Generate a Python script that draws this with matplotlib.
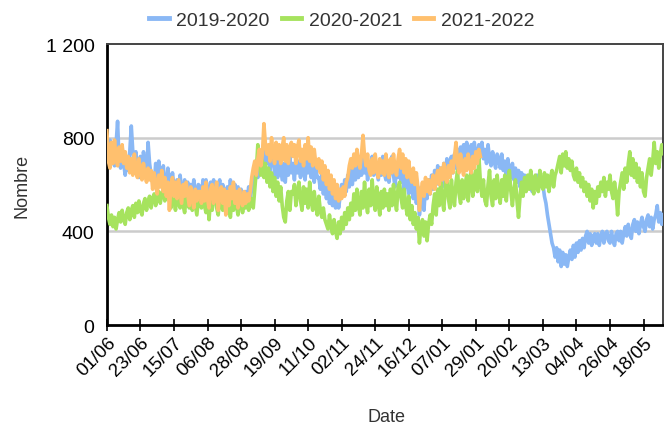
import numpy as np
import matplotlib
matplotlib.use('Agg')
import matplotlib.pyplot as plt
from matplotlib.ticker import FuncFormatter

plt.rcParams['font.family'] = ['Liberation Sans', 'DejaVu Sans']

# daily counts, index 0 = 01/06
s2019 = [760, 700, 790, 690, 750, 680, 770, 870, 700, 670, 760, 690, 640, 720, 660, 740, 850, 740,
         690, 740, 660, 630, 720, 650, 740, 680, 630, 780, 690, 640, 610,
         600, 690, 630, 700, 620, 590, 680, 600, 580, 670, 610, 570, 650, 590, 560,
         620, 550, 640, 580, 540, 620, 560, 610, 540, 600, 550, 620, 570, 530, 600,
         590, 540, 620, 560, 620, 570, 530, 610, 550, 620, 560, 520, 590, 620, 550, 600,
         560, 510, 590, 550, 620, 560, 530, 600, 550, 590, 520, 580, 550, 530,
         570, 530, 590, 540, 580, 610,
         650, 700, 630, 720, 660, 740, 680, 760, 690,
         730, 660, 710, 750, 640, 700, 630, 720, 670, 620, 690, 610, 700, 640, 720, 650,
         690, 620, 720, 650, 700, 630, 730, 660, 620, 710, 650, 720, 630, 690, 610, 670, 630,
         630, 580, 650, 560, 620, 540, 600, 520, 580, 510, 570, 500, 560, 500,
         550, 600, 550, 620, 570, 640, 590, 660, 600, 670, 620, 680, 630,
         700, 640, 720, 650, 700, 620, 690, 650, 720, 640, 700, 660, 620, 690, 640, 720, 650,
         620, 700, 610, 670, 720, 640, 590, 690, 630, 710, 610, 670, 580, 660, 600, 560,
         650, 590, 540, 620, 520, 590,
         470, 530, 580, 490, 600, 540,
         620, 560, 640, 580, 660, 600, 680, 610, 670, 590, 690, 630, 710, 640, 700, 720,
         650, 730, 670, 750, 690,
         760, 700, 770, 710, 780, 720, 690, 770, 710, 780, 730, 700, 770, 720, 780, 710,
         750, 690, 770, 710, 680, 740, 700, 670, 730,
         710, 670, 730, 660, 700, 640, 710, 650, 630, 690, 620, 670, 610, 660, 590, 650,
         600, 640, 580, 630, 590, 650, 570, 630, 590, 640, 580, 630, 610,
         600, 550, 520, 470, 430, 390, 350, 330, 290, 330, 270, 320, 250, 310, 260,
         300, 250, 290, 320, 280, 340, 290, 350, 310, 360, 320, 370, 330, 380, 400, 350,
         390, 340, 380, 390,
         350, 390, 340, 380, 400, 350, 390, 400, 360, 350, 400, 360, 340, 390, 400, 360,
         400, 350, 390, 420,
         380, 430, 390, 370, 430, 450, 400, 440, 390, 430, 460, 420, 400, 450, 470, 420,
         460, 410, 450, 470, 510, 440, 480, 430, 470, 480]

s2020 = [510, 460, 430, 470, 420,
         460, 410, 450, 480, 440, 490, 450, 430, 480, 500, 450,
         490, 510, 460, 520, 480, 530, 490, 470, 520, 540, 490, 530, 550, 500, 540,
         560, 510, 550, 570, 520, 560, 580, 530, 570, 590, 540, 500, 580, 530, 490,
         570, 520, 500, 560, 510, 480, 550, 570, 500, 540, 490, 550, 510, 470, 540,
         550, 500, 570, 510, 480, 560, 450, 540, 490, 550, 570, 500, 470, 550, 510, 490,
         560, 520, 480, 520, 460, 540, 490, 550, 510, 470, 520, 540, 480, 530, 500, 550,
         490, 530, 540, 500,
         580, 660, 770, 690, 640, 700, 630, 690, 610,
         670, 590, 650, 570, 630, 550, 610, 530, 590, 510, 460, 440, 530, 570, 490, 570,
         560, 600, 510, 570, 610, 530, 490, 590, 520, 580, 500, 610, 530, 490, 570, 510,
         470, 550, 490, 460,
         500, 450, 430, 410, 470, 420, 390, 450, 400, 370, 440, 390, 460, 410, 480, 430, 500,
         450, 520, 470, 560, 490, 580, 510, 470, 570, 500, 610, 520, 480, 580, 510, 620,
         530, 490, 590, 520, 470, 570, 500, 580, 510,
         560, 490, 580, 510, 600, 530, 490, 590, 610, 540, 500, 580, 510, 470, 550, 450, 510,
         430, 480, 410, 460, 350, 420, 450, 380, 440, 360, 430, 470, 430,
         510, 560, 470, 580, 510, 610, 530, 490, 600, 640, 540, 500, 620, 550, 510, 610,
         660, 560, 520, 620, 540, 600, 640, 530, 610, 670, 550, 620, 660, 570,
         720, 610, 550, 620, 530, 510, 600, 660, 550, 510, 620, 540, 640, 570, 520, 620,
         550, 640, 530, 610, 660, 570, 510, 580, 620, 530, 460,
         550, 610, 550, 630, 570, 640, 580, 660, 590, 560, 640, 590, 570, 660, 600, 580,
         650, 590, 640, 570, 630, 660, 590, 640, 660,
         690, 720, 650, 730, 680, 740, 670, 710, 660, 700,
         640, 620, 670, 610, 650, 590, 630, 570, 610, 550, 600, 530, 580, 500, 570, 520, 590,
         550, 610, 570, 630, 550, 610, 580, 640, 570, 540, 610, 560, 470, 570, 610, 650,
         580, 670,
         610, 690, 740, 640, 710, 630, 690, 610, 670, 590, 650, 570, 550, 630, 670, 710,
         640, 700, 780, 690, 740, 670, 730, 770, 730, 760]

s2021 = [830, 700, 670, 780, 690, 790, 710, 680, 760, 700,
         770, 690, 740, 670, 720, 650, 710, 640, 730, 670, 630, 710, 650, 620, 690, 640,
         610, 670, 620, 660, 580, 650, 600, 560, 640, 590, 660, 570, 630, 550, 610,
         490, 600, 630, 550, 610, 540, 620, 570, 520, 600, 550, 610, 560, 510, 590, 540,
         500, 580, 530, 570,
         570, 520, 590, 530, 610, 540, 500, 580, 600, 520, 570, 610, 490, 560, 590, 520,
         580, 470, 570, 510, 590, 540, 610, 520, 570, 500, 580, 530, 510, 570, 520, 560,
         530, 570,
         630, 670, 700, 640, 710, 750, 680, 730, 860, 770, 730,
         770, 700, 800, 730, 690, 780, 710, 770, 690, 760, 800, 700, 770, 690, 750, 780,
         720, 770, 690, 760, 790, 700, 750, 680, 770, 710, 800, 700, 760, 680, 750, 690, 670,
         710, 650, 700, 620, 680, 600, 660, 580, 640, 560, 620, 540, 600, 530, 580, 540, 590,
         550, 610, 630, 680, 710, 670, 730, 680, 750, 700, 670, 730, 810, 720, 680,
         730, 660, 640, 710, 650, 730, 670, 630, 710, 650, 700, 640, 730, 670, 630, 710,
         650, 730, 670, 640,
         710, 750, 670, 730, 650, 710, 630, 700, 640, 610, 670, 600, 650, 590,
         490, 570, 610, 550, 630, 570, 620, 560, 610, 640, 580,
         630, 660, 600, 670, 620, 690, 630, 610, 680, 630, 700, 650, 720, 780, 690, 650,
         730, 670, 640, 710, 660, 730, 680, 650, 720, 670, 740, 690, 750, 720]

tick_labels = ['01/06', '23/06', '15/07', '06/08', '28/08', '19/09', '11/10', '02/11',
               '24/11', '16/12', '07/01', '29/01', '20/02', '13/03', '04/04', '26/04',
               '18/05']

fig = plt.figure(figsize=(6.64, 4.27), dpi=100)
ax = fig.add_axes([0.161, 0.2365, 0.838, 0.658])

ax.plot(np.arange(len(s2019)), s2019, color='#8ab8f5', lw=2.6, label='2019-2020', zorder=3)
ax.plot(np.arange(len(s2020)), s2020, color='#a6e35e', lw=2.6, label='2020-2021', zorder=4)
ax.plot(np.arange(len(s2021)), s2021, color='#ffc06e', lw=2.6, label='2021-2022', zorder=5)

ax.set_xlim(0, 365)
ax.set_ylim(0, 1200)
ax.set_yticks([0, 400, 800, 1200])
ax.yaxis.set_major_formatter(FuncFormatter(lambda v, p: '{:,}'.format(int(v)).replace(',', ' ')))
ax.set_xticks(np.arange(len(tick_labels)) * 22)
ax.set_xticklabels(tick_labels, rotation=45, ha='right', rotation_mode='anchor')

for yv in [400, 800]:
    ax.axhline(yv, color='#cccccc', lw=1.8, zorder=1)

ax.spines['left'].set_linewidth(2)
ax.spines['bottom'].set_linewidth(2)
ax.spines['top'].set_color('#444444')
ax.spines['right'].set_color('#444444')
ax.spines['top'].set_linewidth(1.4)
ax.spines['right'].set_linewidth(1.4)
ax.tick_params(axis='x', direction='inout', length=8, width=1.2, labelsize=13.5, pad=2)
ax.tick_params(axis='y', length=0, labelsize=14, pad=9)

ax.set_xlabel('Date', fontsize=13, color='#333333')
ax.set_ylabel('Nombre', fontsize=13, color='#333333')
ax.xaxis.set_label_coords(0.503, -0.297)
ax.yaxis.set_label_coords(-0.137, 0.50)

leg = fig.legend(loc='center', bbox_to_anchor=(0.515, 0.950), ncol=3, frameon=False,
                 fontsize=14, handlelength=1.0, columnspacing=0.6, handletextpad=0.4)
for line in leg.get_lines():
    line.set_linewidth(3.5)
for t in leg.get_texts():
    t.set_color('#333333')

fig.savefig('out.png', dpi=100)
